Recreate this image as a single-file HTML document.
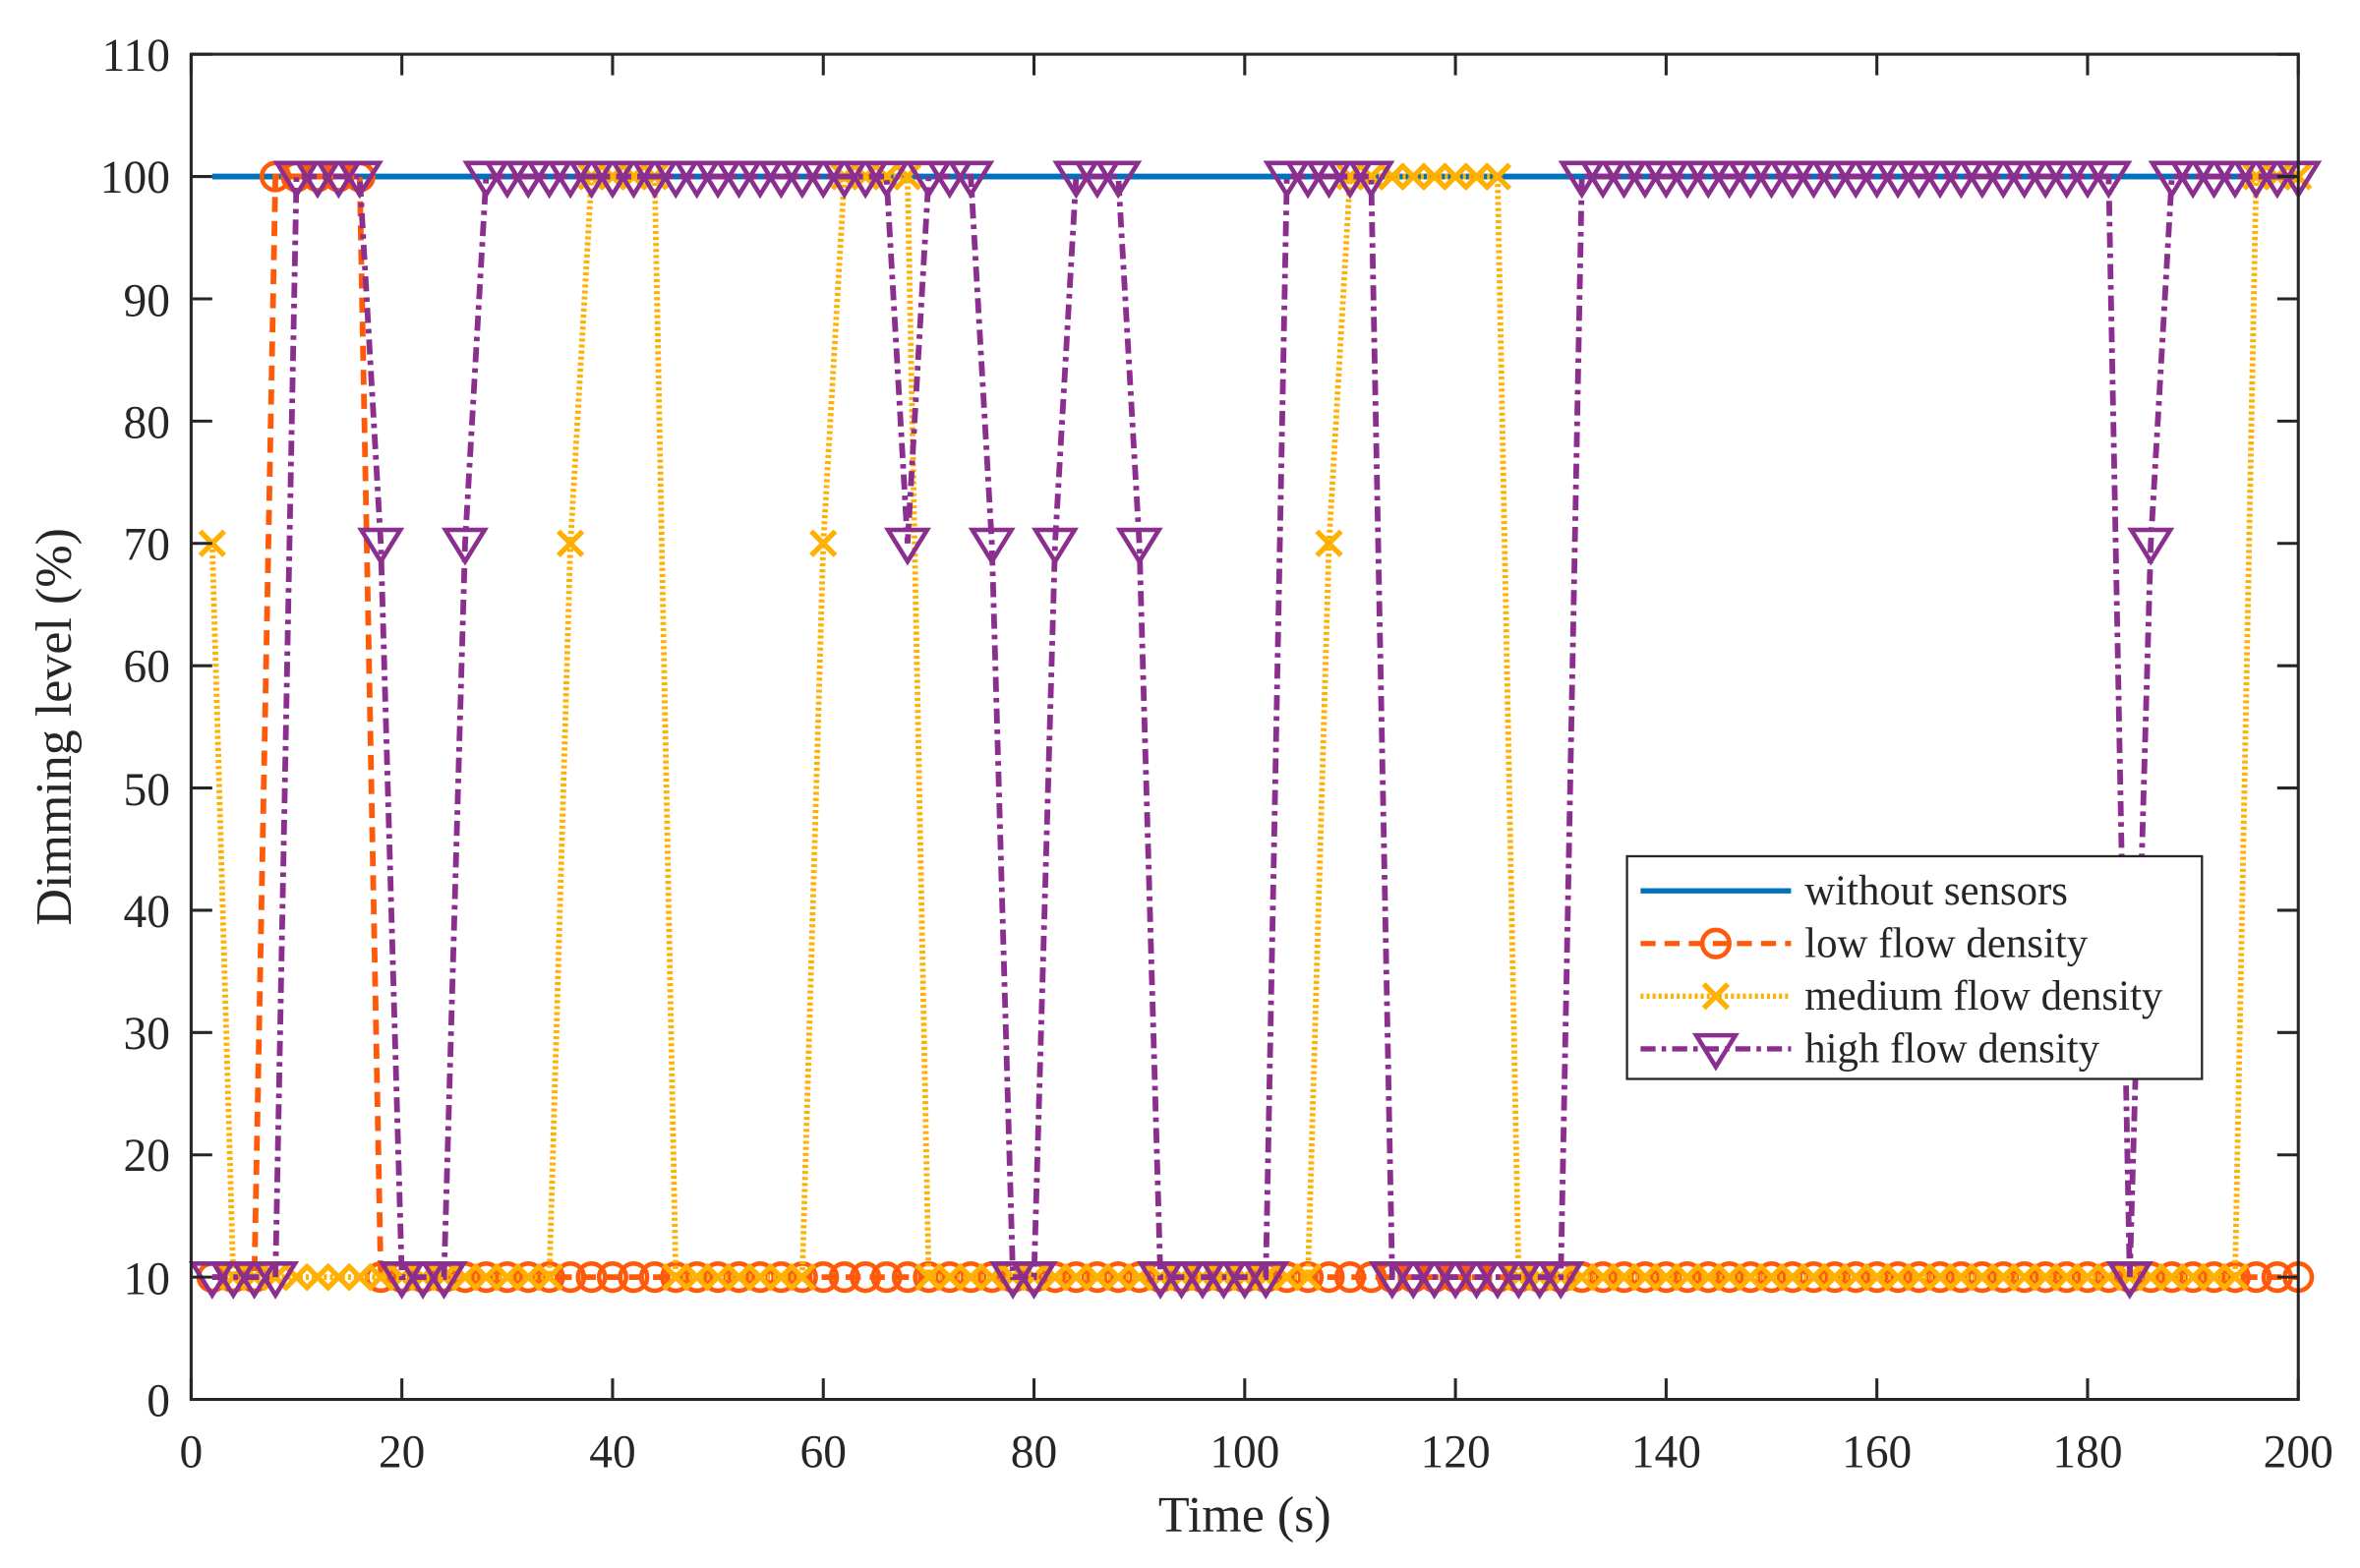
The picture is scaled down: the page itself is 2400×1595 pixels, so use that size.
<!DOCTYPE html>
<html><head><meta charset="utf-8"><style>
html,body{margin:0;padding:0;background:#fff;}
svg{display:block;}
text{font-family:"Liberation Serif",serif;fill:#262626;}
</style></head><body>
<svg id="s" width="2400" height="1595" viewBox="0 0 1568 1042" xmlns="http://www.w3.org/2000/svg">
<rect width="1568" height="1042" fill="#fff"/>
<g id="plot"></g>
<rect x="127" y="36" width="1400" height="894" fill="none" stroke="#262626" stroke-width="2"/>
<g id="ticks" stroke="#262626" stroke-width="2"></g>
<g font-size="31" text-anchor="end">
<text x="113" y="941">0</text><text x="113" y="860">10</text><text x="113" y="778">20</text><text x="113" y="697">30</text><text x="113" y="616">40</text><text x="113" y="535">50</text><text x="113" y="453">60</text><text x="113" y="372">70</text><text x="113" y="291">80</text><text x="113" y="210">90</text><text x="113" y="128">100</text><text x="113" y="47">110</text>
</g>
<g font-size="31" text-anchor="middle">
<text x="127" y="975">0</text><text x="267" y="975">20</text><text x="407" y="975">40</text><text x="547" y="975">60</text><text x="687" y="975">80</text><text x="827" y="975">100</text><text x="967" y="975">120</text><text x="1107" y="975">140</text><text x="1247" y="975">160</text><text x="1387" y="975">180</text><text x="1527" y="975">200</text>
</g>
<text x="827" y="1018" font-size="34" text-anchor="middle">Time (s)</text>
<text transform="translate(47,483) rotate(-90)" font-size="34" text-anchor="middle">Dimming level (%)</text>
<g id="legend">
<rect x="1081" y="569" width="382" height="148" fill="#fff" stroke="#262626" stroke-width="1.5"/>
<line x1="1090" y1="592" x2="1190" y2="592" stroke="#0072BD" stroke-width="3.5"/>
<line x1="1090" y1="627" x2="1190" y2="627" stroke="#FF5A0A" stroke-width="3.5" stroke-dasharray="10,6"/>
<circle cx="1140" cy="627" r="9" fill="none" stroke="#FF5A0A" stroke-width="3"/>
<line x1="1090" y1="662" x2="1190" y2="662" stroke="#FFB000" stroke-width="3.5" stroke-dasharray="2,2"/>
<path d="M1132,654 L1148,670 M1148,654 L1132,670" stroke="#FFB000" stroke-width="3.5"/>
<line x1="1090" y1="697" x2="1190" y2="697" stroke="#8B2F8F" stroke-width="3.5" stroke-dasharray="10,4,3,4"/>
<path d="M1127,688 L1153,688 L1140,709 Z" fill="none" stroke="#8B2F8F" stroke-width="3"/>
<text x="1199" y="601" font-size="28">without sensors</text>
<text x="1199" y="636" font-size="28">low flow density</text>
<text x="1199" y="671" font-size="28">medium flow density</text>
<text x="1199" y="706" font-size="28">high flow density</text>
</g>
</svg>
<script>
(function(){
var NS="http://www.w3.org/2000/svg";
function X(t){return 127+7*t;}function Y(v){return 930-v*8.127;}
var plot=document.getElementById('plot'),ticks=document.getElementById('ticks');
function el(n,a,p){var e=document.createElementNS(NS,n);for(var k in a)e.setAttribute(k,a[k]);(p||plot).appendChild(e);return e;}
for(var t=0;t<=200;t+=20){el('line',{x1:X(t),y1:930,x2:X(t),y2:916},ticks);el('line',{x1:X(t),y1:36,x2:X(t),y2:50},ticks);}
for(var v=0;v<=110;v+=10){el('line',{x1:127,y1:Y(v),x2:141,y2:Y(v)},ticks);el('line',{x1:1527,y1:Y(v),x2:1513,y2:Y(v)},ticks);}
function series(f){var a=[];for(var t=2;t<=200;t+=2)a.push([t,f(t)]);return a;}
function inr(t,r){for(var i=0;i<r.length;i++)if(t>=r[i][0]&&t<=r[i][1])return true;return false;}
var low=series(function(t){return (t>=8&&t<=16)?100:10;});
var med=series(function(t){if(t==2||t==36||t==60||t==108)return 70;return inr(t,[[38,44],[62,68],[110,124],[196,200]])?100:10;});
var high=series(function(t){if([18,26,68,76,82,90,186].indexOf(t)>=0)return 70;return inr(t,[[10,16],[28,66],[70,74],[84,88],[104,112],[132,182],[188,200]])?100:10;});
function line(d,c,dash){el('polyline',{points:d.map(function(p){return X(p[0])+','+Y(p[1]);}).join(' '),fill:'none',stroke:c,'stroke-width':3.8,'stroke-dasharray':dash||'none'});}
el('line',{x1:X(2),y1:Y(100),x2:X(200),y2:Y(100),stroke:'#0072BD','stroke-width':3.8});
line(low,'#FF5A0A','10,6');
low.forEach(function(p){el('circle',{cx:X(p[0]),cy:Y(p[1]),r:9,fill:'none',stroke:'#FF5A0A','stroke-width':3});});
line(med,'#FFB000','2,2');
med.forEach(function(p){var x=X(p[0]),y=Y(p[1]);el('path',{d:'M'+(x-8)+','+(y-8)+'L'+(x+8)+','+(y+8)+'M'+(x+8)+','+(y-8)+'L'+(x-8)+','+(y+8),stroke:'#FFB000','stroke-width':3.5});});
line(high,'#8B2F8F','10,4,3,4');
high.forEach(function(p){var x=X(p[0]),y=Y(p[1]);el('path',{d:'M'+(x-13)+','+(y-9)+'L'+(x+13)+','+(y-9)+'L'+x+','+(y+12)+'Z',fill:'none',stroke:'#8B2F8F','stroke-width':3});});
})();
</script>
</body></html>
